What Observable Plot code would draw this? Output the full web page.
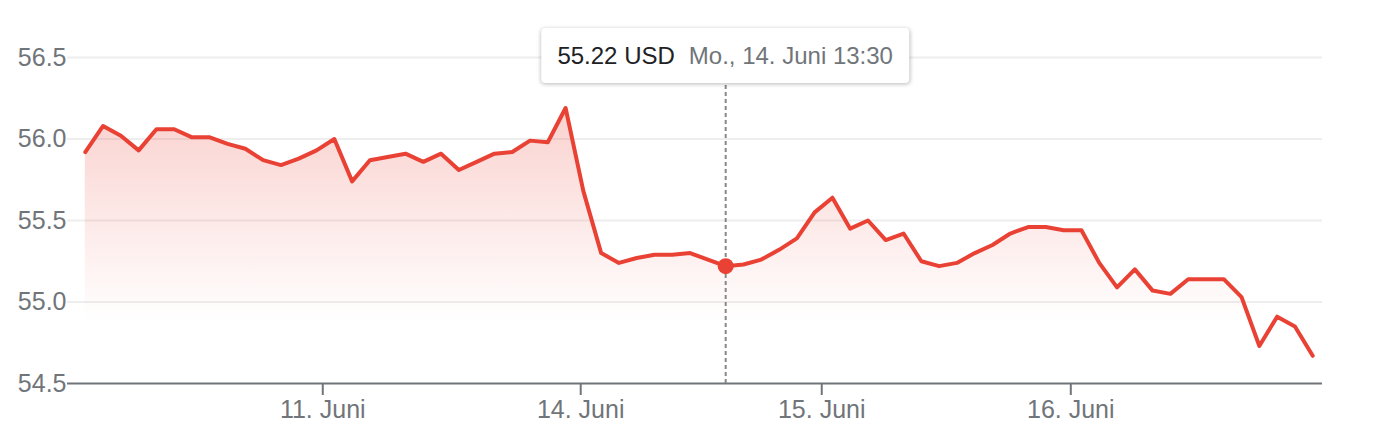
<!DOCTYPE html>
<html><head><meta charset="utf-8">
<script src="https://cdn.jsdelivr.net/npm/d3@7"></script>
<script src="https://cdn.jsdelivr.net/npm/@observablehq/plot@0.6"></script>
<style>
body{margin:0;background:#fff;font-family:"Liberation Sans",Arial,sans-serif;}
#wrap{position:relative;width:1384px;height:448px;overflow:hidden;}
#tip{position:absolute;top:28px;transform:translateX(-50%);background:#fff;border-radius:4px;
 box-shadow:0 1px 4px rgba(0,0,0,0.28);padding:14px 16px;font-size:24px;line-height:27px;white-space:nowrap;}
#tip .p{color:#202124;margin-right:14px;}
#tip .d{color:#70757a;}
svg [aria-label="x-axis tick"]{stroke-width:2;}
</style></head><body><div id="wrap"></div>
<script>
// Closing prices at each 30-minute step (index 0 = 10 Juni, trading hours only)
const prices = [
  55.92, 56.08, 56.02, 55.93, 56.06, 56.06, 56.01, 56.01, 55.97, 55.94,
  55.87, 55.84, 55.88, 55.93, 56.00, 55.74, 55.87, 55.89, 55.91, 55.86,
  55.91, 55.81, 55.86, 55.91, 55.92, 55.99, 55.98, 56.19, 55.68, 55.30,
  55.24, 55.27, 55.29, 55.29, 55.30, 55.26, 55.22, 55.23, 55.26, 55.32,
  55.39, 55.55, 55.64, 55.45, 55.50, 55.38, 55.42, 55.25, 55.22, 55.24,
  55.30, 55.35, 55.42, 55.46, 55.46, 55.44, 55.44, 55.24, 55.09, 55.20,
  55.07, 55.05, 55.14, 55.14, 55.14, 55.03, 54.73, 54.91, 54.85, 54.67
];
const tickIndex = [13.35, 27.85, 41.4, 55.4];
const tickLabels = ["11. Juni", "14. Juni", "15. Juni", "16. Juni"];
const yTicks = [54.5, 55.0, 55.5, 56.0, 56.5];
const hoverIndex = 36;
const hoverPrice = "55.22 USD";
const hoverDate = "Mo., 14. Juni 13:30";

const data = prices.map((p, i) => ({i, p}));
const red = "#e94235";
const baseY = yTicks[0];

const chart = Plot.plot({
  width: 1384, height: 448,
  marginLeft: 67, marginRight: 62, marginTop: 57, marginBottom: 65,
  style: {fontFamily: '"Liberation Sans", Arial, sans-serif', fontSize: "25px", color: "#70757a", background: "#fff"},
  x: {domain: [-1, 69.55], ticks: tickIndex, tickFormat: d => tickLabels[tickIndex.indexOf(d)], tickSize: 12, tickPadding: 5, label: null},
  y: {domain: [yTicks[0], yTicks[yTicks.length - 1]], ticks: yTicks, tickFormat: d3.format(".1f"), tickSize: 0, tickPadding: 1, label: null},
  marks: [
    Plot.ruleY(yTicks.slice(1), {stroke: "#eeeeee", strokeWidth: 2}),
    Plot.areaY(data, {x: "i", y1: baseY, y2: "p", fill: "url(#fadeRed)"}),
    Plot.ruleY([baseY], {stroke: "#70757a", strokeWidth: 2}),
    Plot.ruleX([hoverIndex], {y1: baseY, y2: yTicks[yTicks.length - 1], stroke: "#888", strokeWidth: 2, strokeDasharray: "4,3"}),
    Plot.lineY(data, {x: "i", y: "p", stroke: red, strokeWidth: 4}),
    Plot.dot([data[hoverIndex]], {x: "i", y: "p", r: 8, fill: red})
  ]
});

const defs = d3.select(chart).insert("defs", ":first-child");
const g = defs.append("linearGradient").attr("id", "fadeRed").attr("x1", 0).attr("y1", 0).attr("x2", 0).attr("y2", 1);
g.append("stop").attr("offset", "0%").attr("stop-color", red).attr("stop-opacity", 0.24);
g.append("stop").attr("offset", "78%").attr("stop-color", red).attr("stop-opacity", 0.0);

const wrap = document.getElementById("wrap");
wrap.appendChild(chart);
const tip = document.createElement("div");
tip.id = "tip";
tip.innerHTML = `<span class="p">${hoverPrice}</span><span class="d">${hoverDate}</span>`;
tip.style.left = chart.scale("x").apply(hoverIndex) + "px";
wrap.appendChild(tip);
</script>
</body></html>
